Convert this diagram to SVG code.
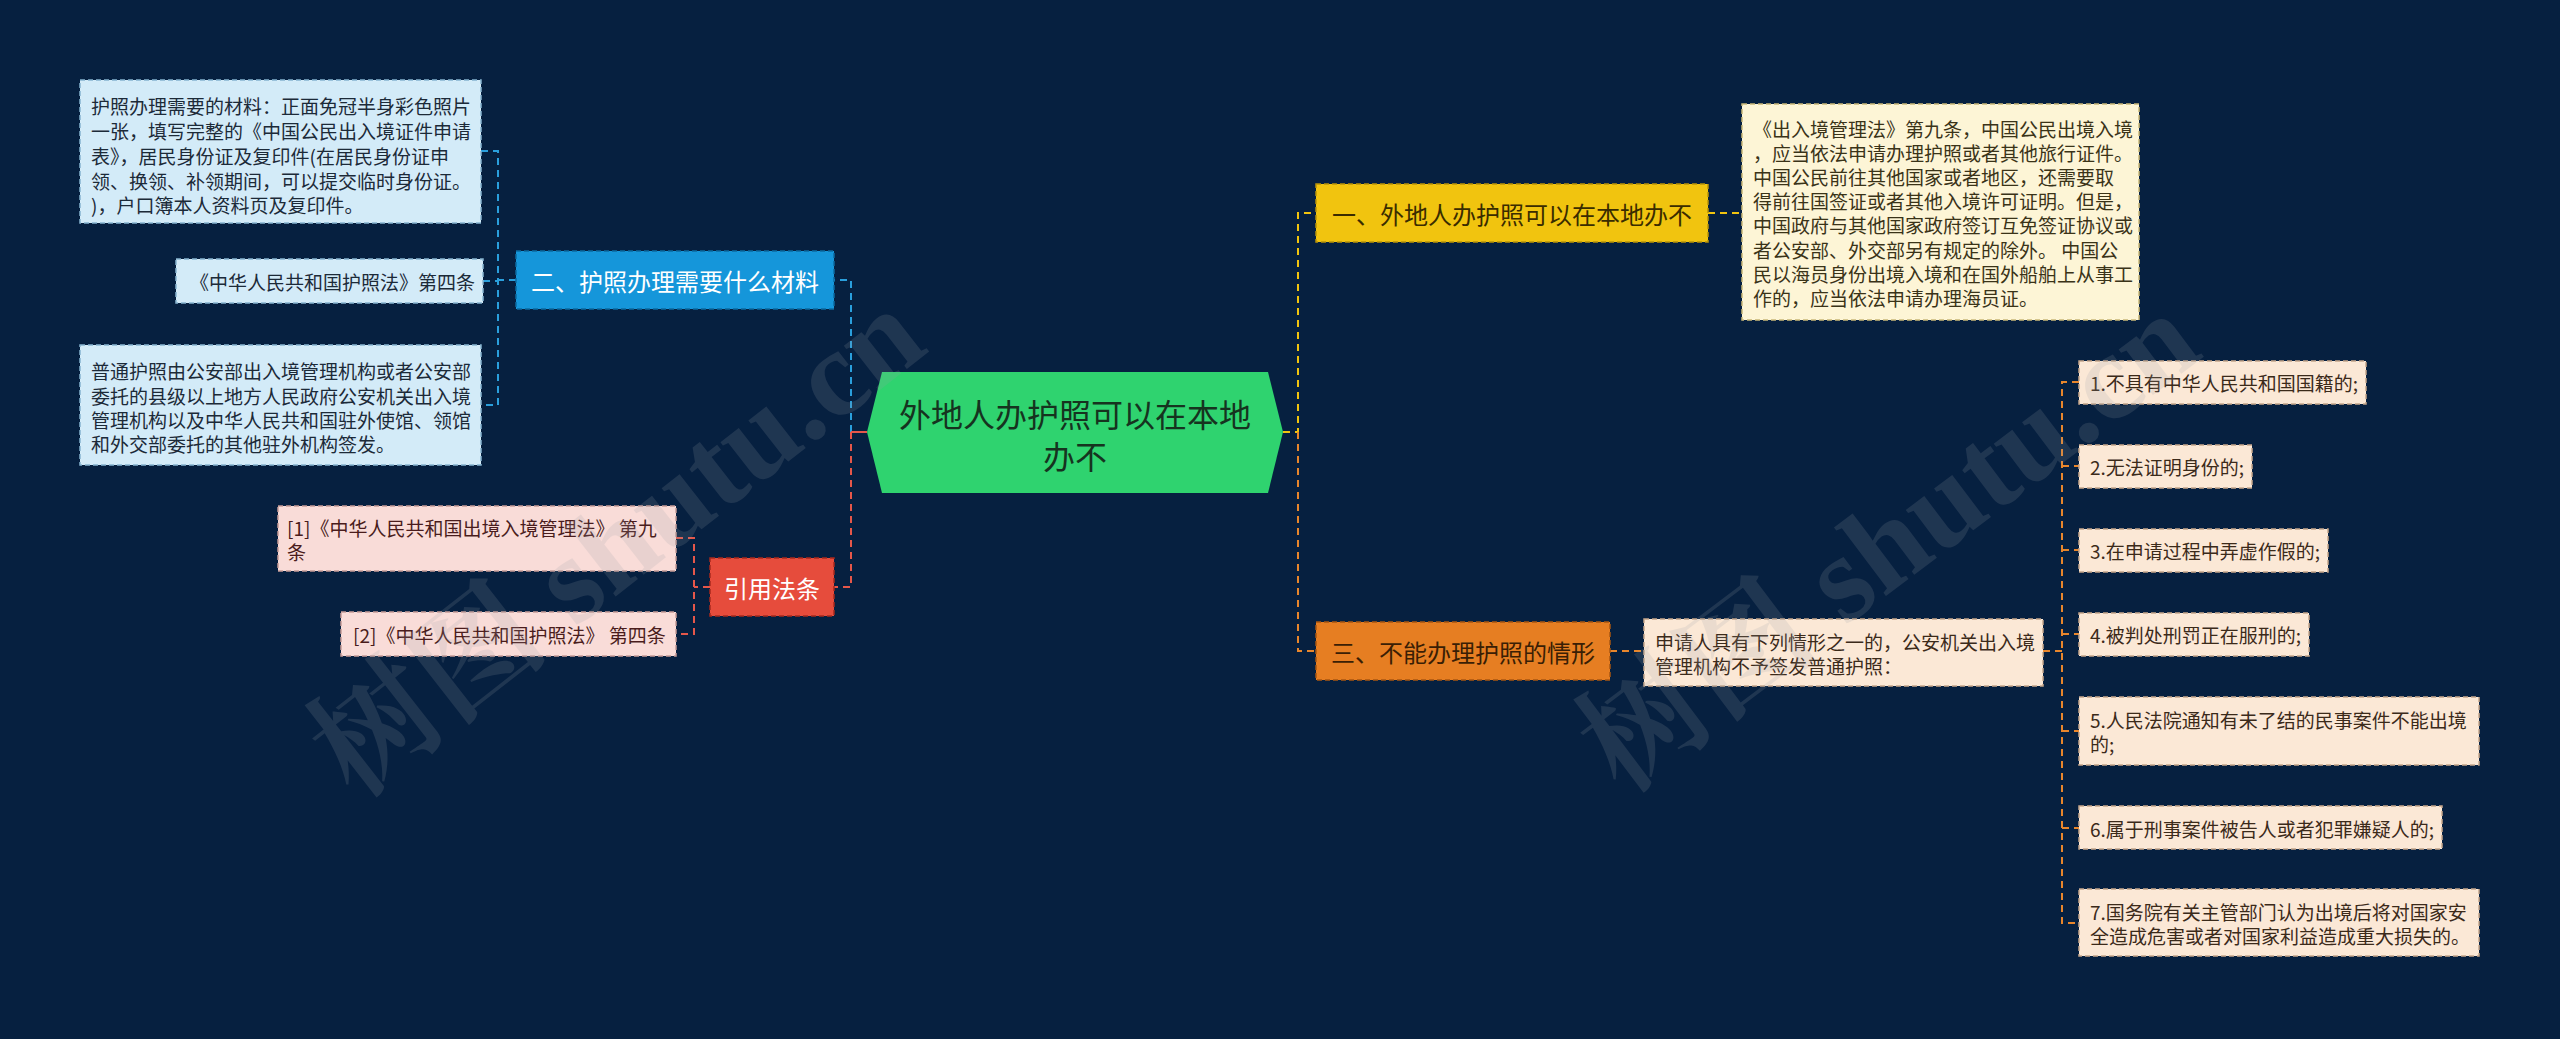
<svg xmlns="http://www.w3.org/2000/svg" width="2560" height="1039" viewBox="0 0 2560 1039">
<style>
text{font-family:"Noto Sans CJK SC","Microsoft YaHei","Noto Sans",sans-serif;dominant-baseline:central}
.leaf{font-size:19px}
.br{font-size:24px}
.c{fill:none;stroke-width:2;stroke-dasharray:7 5}
.cb{stroke:#2a9fdc}.cr{stroke:#e5574a}.cy{stroke:#f1c40f}.co{stroke:#e8862c}
.wm{font-family:"Liberation Serif","Noto Serif CJK SC","Noto Sans CJK SC",serif;font-size:124px;font-weight:bold;fill:#9aa0a8;opacity:0.17;dominant-baseline:auto}
</style>
<rect width="2560" height="1039" fill="#062040"/>
<g id="connectors">
<path class="c cb" d="M851,432 V280 H834"/>
<path class="c cr" d="M851,432 V587 H834"/>
<path d="M851,432 H867" stroke="#e5574a" stroke-width="2" fill="none"/>
<path class="c cy" d="M1283,432 H1298 V213 H1316"/>
<path class="c co" d="M1298,432 V651 H1316"/>
<path class="c cb" d="M516,280 H498 M481,151 H498 V405 H481 M483,281 H498"/>
<path class="c cr" d="M710,587 H694 M676,538 H694 V634 H676"/>
<path class="c cy" d="M1708,213 H1742"/>
<path class="c co" d="M1610,651 H1644"/>
<path class="c co" d="M2043,651 H2062 M2079,382 H2062 V923 H2079 M2062,466 H2079 M2062,550 H2079 M2062,634 H2079 M2062,731 H2079 M2062,828 H2079"/>
</g>
<g id="center">
<polygon points="867,432 882,372 1268,372 1283,432 1268,493 882,493" fill="#2fd36f"/>
<text x="1075" y="413" font-size="32" fill="#16331f" text-anchor="middle">外地人办护照可以在本地</text>
<text x="1075" y="455" font-size="32" fill="#16331f" text-anchor="middle">办不</text>
</g>
<g id="b1">
<rect x="1316" y="184" width="392" height="58" fill="#f1c40f" stroke="#b89208" stroke-width="1.5" stroke-dasharray="5 3"/>
<text class="br" x="1512" y="213" fill="#3a2c00" text-anchor="middle">一、外地人办护照可以在本地办不</text>
</g>
<g id="b1-leaf">
<rect x="1742" y="104" width="397" height="216" fill="#fdf5d6" stroke="#c9b878" stroke-width="1.5" stroke-dasharray="5 3"/>
<g class="leaf" fill="#3a3318">
<text x="1753" y="128">《出入境管理法》第九条，中国公民出境入境</text>
<text x="1753" y="152">，应当依法申请办理护照或者其他旅行证件。</text>
<text x="1753" y="176"> 中国公民前往其他国家或者地区，还需要取</text>
<text x="1753" y="200">得前往国签证或者其他入境许可证明。但是，</text>
<text x="1753" y="224">中国政府与其他国家政府签订互免签证协议或</text>
<text x="1753" y="249">者公安部、外交部另有规定的除外。 中国公</text>
<text x="1753" y="273">民以海员身份出境入境和在国外船舶上从事工</text>
<text x="1753" y="297">作的，应当依法申请办理海员证。</text>
</g>
</g>
<g id="b2">
<rect x="516" y="251" width="318" height="58" fill="#1596da" stroke="#0b6aa0" stroke-width="1.5" stroke-dasharray="5 3"/>
<text class="br" x="675" y="280" fill="#ffffff" text-anchor="middle">二、护照办理需要什么材料</text>
</g>
<g id="b2-leaf1">
<rect x="80" y="80" width="401" height="143" fill="#d3ebf8" stroke="#86b4cf" stroke-width="1.5" stroke-dasharray="5 3"/>
<g class="leaf" fill="#1c2a38">
<text x="91" y="105">护照办理需要的材料：正面免冠半身彩色照片</text>
<text x="91" y="130">一张，填写完整的《中国公民出入境证件申请</text>
<text x="91" y="155">表》，居民身份证及复印件(在居民身份证申</text>
<text x="91" y="180">领、换领、补领期间，可以提交临时身份证。</text>
<text x="91" y="204">)，户口簿本人资料页及复印件。</text>
</g>
</g>
<g id="b2-leaf2">
<rect x="176" y="259" width="307" height="44" fill="#d3ebf8" stroke="#86b4cf" stroke-width="1.5" stroke-dasharray="5 3"/>
<text class="leaf" x="475" y="281" fill="#1c2a38" text-anchor="end">《中华人民共和国护照法》第四条</text>
</g>
<g id="b2-leaf3">
<rect x="80" y="345" width="401" height="120" fill="#d3ebf8" stroke="#86b4cf" stroke-width="1.5" stroke-dasharray="5 3"/>
<g class="leaf" fill="#1c2a38">
<text x="91" y="370">普通护照由公安部出入境管理机构或者公安部</text>
<text x="91" y="395">委托的县级以上地方人民政府公安机关出入境</text>
<text x="91" y="419">管理机构以及中华人民共和国驻外使馆、领馆</text>
<text x="91" y="443">和外交部委托的其他驻外机构签发。</text>
</g>
</g>
<g id="b4">
<rect x="710" y="558" width="124" height="58" fill="#e64c3c" stroke="#a8281c" stroke-width="1.5" stroke-dasharray="5 3"/>
<text class="br" x="772" y="587" fill="#ffffff" text-anchor="middle">引用法条</text>
</g>
<g id="b4-leaf1">
<rect x="278" y="506" width="398" height="65" fill="#f9dcd8" stroke="#c59a96" stroke-width="1.5" stroke-dasharray="5 3"/>
<text class="leaf" x="287" y="527" fill="#4a1c1c">[1]《中华人民共和国出境入境管理法》 第九</text>
<text class="leaf" x="287" y="551" fill="#4a1c1c">条</text>
</g>
<g id="b4-leaf2">
<rect x="341" y="612" width="335" height="44" fill="#f9dcd8" stroke="#c59a96" stroke-width="1.5" stroke-dasharray="5 3"/>
<text class="leaf" x="353" y="634" fill="#4a1c1c">[2]《中华人民共和国护照法》 第四条</text>
</g>
<g id="b3">
<rect x="1316" y="622" width="294" height="58" fill="#e67e22" stroke="#a85510" stroke-width="1.5" stroke-dasharray="5 3"/>
<text class="br" x="1463" y="651" fill="#3a1e05" text-anchor="middle">三、不能办理护照的情形</text>
</g>
<g id="b3-leaf">
<rect x="1644" y="619" width="399" height="67" fill="#fbe8d6" stroke="#c5a58a" stroke-width="1.5" stroke-dasharray="5 3"/>
<text class="leaf" x="1655" y="641" fill="#3b2a1a">申请人具有下列情形之一的，公安机关出入境</text>
<text class="leaf" x="1655" y="665" fill="#3b2a1a">管理机构不予签发普通护照：</text>
</g>
<g id="items" class="leaf" fill="#3b2a1a">
<g id="i1"><rect x="2079" y="361" width="287" height="43" fill="#fbe8d6" stroke="#c5a58a" stroke-width="1.5" stroke-dasharray="5 3"/><text x="2090" y="382">1.不具有中华人民共和国国籍的;</text></g>
<g id="i2"><rect x="2079" y="445" width="173" height="43" fill="#fbe8d6" stroke="#c5a58a" stroke-width="1.5" stroke-dasharray="5 3"/><text x="2090" y="466">2.无法证明身份的;</text></g>
<g id="i3"><rect x="2079" y="529" width="249" height="43" fill="#fbe8d6" stroke="#c5a58a" stroke-width="1.5" stroke-dasharray="5 3"/><text x="2090" y="550">3.在申请过程中弄虚作假的;</text></g>
<g id="i4"><rect x="2079" y="613" width="230" height="43" fill="#fbe8d6" stroke="#c5a58a" stroke-width="1.5" stroke-dasharray="5 3"/><text x="2090" y="634">4.被判处刑罚正在服刑的;</text></g>
<g id="i5"><rect x="2079" y="697" width="400" height="68" fill="#fbe8d6" stroke="#c5a58a" stroke-width="1.5" stroke-dasharray="5 3"/><text x="2090" y="719">5.人民法院通知有未了结的民事案件不能出境</text><text x="2090" y="743">的;</text></g>
<g id="i6"><rect x="2079" y="806" width="363" height="43" fill="#fbe8d6" stroke="#c5a58a" stroke-width="1.5" stroke-dasharray="5 3"/><text x="2090" y="828">6.属于刑事案件被告人或者犯罪嫌疑人的;</text></g>
<g id="i7"><rect x="2079" y="889" width="400" height="67" fill="#fbe8d6" stroke="#c5a58a" stroke-width="1.5" stroke-dasharray="5 3"/><text x="2090" y="911">7.国务院有关主管部门认为出境后将对国家安</text><text x="2090" y="935">全造成危害或者对国家利益造成重大损失的。</text></g>
</g>
<text class="wm" transform="translate(355,800) rotate(-38)">树图 shutu.cn</text>
<text class="wm" transform="translate(1622,795) rotate(-37)">树图 shutu.cn</text>
</svg>
